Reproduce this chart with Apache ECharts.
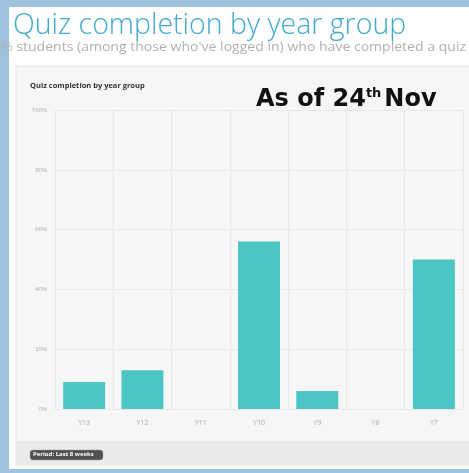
<!DOCTYPE html>
<html><head><meta charset="utf-8">
<script src="https://cdn.jsdelivr.net/npm/echarts@6/dist/echarts.min.js"></script>
<style>html,body{margin:0;padding:0;background:#9dc3de}#c{width:469px;height:473px}</style>
</head><body><div id="c"></div>
<script>
const categories = ['Y13','Y12','Y11','Y10','Y9','Y8','Y7'];
const completion = [9, 13, 0, 56, 6, 0, 50];
const yTicks = [0, 20, 40, 60, 80, 100];
const pageTitle = 'Quiz completion by year group';
const pageSubtitle = "% students (among those who've logged in) who have completed a quiz";
const chartTitle = 'Quiz completion by year group';
const periodLabel = 'Period: Last 8 weeks';

const chart = echarts.init(document.getElementById('c'));
chart.setOption({
  backgroundColor: '#9dc3de',
  animation: false,
  graphic: [
    {type:'rect', z:-10, shape:{x:9,y:7,width:460,height:462}, style:{fill:'#ffffff'}},
    {type:'rect', z:-9, shape:{x:16,y:66,width:460,height:400}, style:{fill:'#f6f6f6', stroke:'#e2e2e2', lineWidth:1}},
    {type:'rect', z:-8, shape:{x:17,y:441,width:460,height:24}, style:{fill:'#ebebeb'}},
    {type:'text', x:13, y:11, style:{text:pageTitle, font:'300 28.5px "Open Sans"', fill:'#42a9cf'}},
    {type:'text', x:1, y:42, scaleX:1.17, style:{text:pageSubtitle, font:'12px "Open Sans"', fill:'#b0b0b0'}},
    {type:'text', x:30, y:82, style:{text:chartTitle, font:'bold 7.5px "Open Sans"', fill:'#333'}},
    {type:'text', x:256, y:87, style:{
      rich:{a:{font:'bold 24px "DejaVu Sans"', fill:'#111'}, s:{font:'bold 13px "DejaVu Sans"', fill:'#111', verticalAlign:'top', padding:[0,3,12,0]}},
      text:'{a|As of 24}{s|th}{a|Nov}'}},
    {type:'rect', shape:{x:30,y:450,width:73,height:10,r:3}, style:{fill:'#505050', stroke:'#999', lineWidth:0.5}},
    {type:'text', x:33, y:451.5, style:{text:periodLabel, font:'bold 6px "Open Sans"', fill:'#fff'}}
  ],
  grid:{left:55, right:6, top:110, bottom:64},
  xAxis:{
    type:'category', data:categories,
    axisLine:{show:false}, axisTick:{show:false},
    axisLabel:{color:'#aaa', fontSize:7, margin:10, fontFamily:'Open Sans'},
    splitLine:{show:true, lineStyle:{color:'#e8e8e8', width:1}}
  },
  yAxis:{
    type:'value', min:0, max:100, interval:20,
    axisLine:{show:false}, axisTick:{show:false},
    axisLabel:{color:'#aaa', fontSize:6, margin:8, fontFamily:'Open Sans',
      formatter:v => yTicks.includes(v) ? v + '%' : ''},
    splitLine:{lineStyle:{color:'#e8e8e8', width:1}}
  },
  series:[{type:'bar', data:completion, barCategoryGap:'28%', itemStyle:{color:'#4cc6c4'}}]
});
</script></body></html>
